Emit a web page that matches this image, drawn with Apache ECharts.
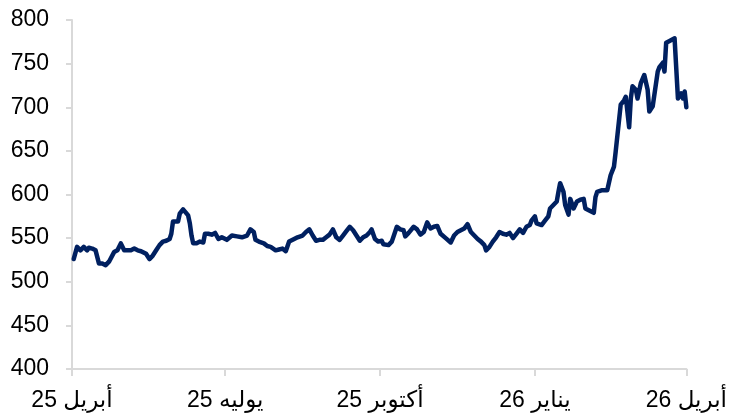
<!DOCTYPE html>
<html>
<head>
<meta charset="utf-8">
<script src="https://cdn.jsdelivr.net/npm/echarts@6/dist/echarts.min.js"></script>
<style>
html,body{margin:0;padding:0;background:#fff;}
#chart{width:730px;height:416px;}
</style>
</head>
<body>
<div id="chart"></div>
<script>
// Days since 1 April 2025
const days = [1,3,5,7,9,10,12,14,16,18,20,21,22,23,25,27,29,31,32,35,37,39,41,44,46,48,50,52,54,56,58,59,60,61,63,64,66,67,69,70,71,72,74,76,78,79,81,83,85,87,89,90,92,
95,98,101,104,106,108,109,111,114,116,118,121,123,125,127,129,130,132,134,137,139,141,143,145,147,149,151,153,155,157,159,161,163,165,167,169,171,173,175,177,178,180,182,184,185,
188,190,191,193,195,197,198,200,203,205,207,209,211,213,215,217,219,222,225,227,229,231,233,235,237,239,241,243,245,246,248,250,252,254,256,258,260,262,264,266,268,270,272,273,275,276,
279,281,283,284,286,288,289,290,292,293,295,296,298,300,302,304,305,307,310,311,312,315,316,318,320,322,323,324,326,328,329,331,332,333,335,336,338,340,342,343,345,346,348,349,351,352,353,355,358,359,360,361,362,363,364,365];
const values = [526,540,536,540,536,539,538,536,521,521,519,519,523,524,534,536,544,536,535,536,538,536,535,532,526,530,536,542,546,547,549,555,569,569,569,578,583,582,576,567,553,544,544,546,545,555,555,554,556,549,551,549,548,
553,552,551,553,560,557,548,546,544,541,540,536,537,538,535,546,548,549,551,553,557,560,553,547,548,548,551,554,560,551,548,553,558,563,559,553,547,551,553,557,560,549,546,547,543,
542,546,546,563,560,559,552,556,563,560,554,557,568,561,563,564,555,550,545,553,557,559,561,566,557,553,549,546,542,536,540,546,551,557,555,554,556,550,555,560,556,563,565,570,575,567,
565,570,575,584,588,592,603,613,603,588,577,595,584,592,594,595,584,582,579,597,603,605,603,605,622,632,649,651,703,708,712,677,710,724,720,710,728,737,720,695,701,703,741,746,751,741,774,776,779,779,710,708,716,710,718,700];

const tickDays = [0, 91, 183, 275, 365];
const tickLabels = ['أبريل 25', 'يوليه 25', 'أكتوبر 25', 'يناير 26', 'أبريل 26'];
const yMin = 400, yMax = 800, yStep = 50;

const FONT = "'Liberation Sans', 'DejaVu Sans', sans-serif";
const chart = echarts.init(document.getElementById('chart'), null, {renderer: 'canvas'});
chart.setOption({
  animation: false,
  backgroundColor: '#ffffff',
  grid: {left: 72, right: 43, top: 20, bottom: 47, containLabel: false},
  xAxis: {
    type: 'value',
    min: 0,
    max: 365,
    splitLine: {show: false},
    axisLine: {show: true, lineStyle: {color: '#d9d9d9', width: 2}},
    axisTick: {show: true, length: 7, customValues: tickDays, lineStyle: {color: '#d9d9d9', width: 2}},
    axisLabel: {
      show: true,
      customValues: tickDays,
      margin: 20,
      fontSize: 23,
      color: '#000',
      fontFamily: FONT,
      formatter: function (v) {
        const i = tickDays.indexOf(Math.round(v));
        return i >= 0 ? tickLabels[i] : '';
      }
    }
  },
  yAxis: {
    type: 'value',
    min: yMin,
    max: yMax,
    interval: yStep,
    splitLine: {show: false},
    axisLine: {show: true, lineStyle: {color: '#d9d9d9', width: 2}},
    axisTick: {show: true, length: 6, lineStyle: {color: '#d9d9d9', width: 2}},
    axisLabel: {margin: 23, fontSize: 23, color: '#000', fontFamily: FONT}
  },
  series: [{
    type: 'line',
    data: days.map((d, i) => [d, values[i]]),
    showSymbol: false,
    symbol: 'none',
    lineStyle: {color: '#002060', width: 4.5, join: 'round', cap: 'round'},
    clip: false
  }]
});
</script>
</body>
</html>
